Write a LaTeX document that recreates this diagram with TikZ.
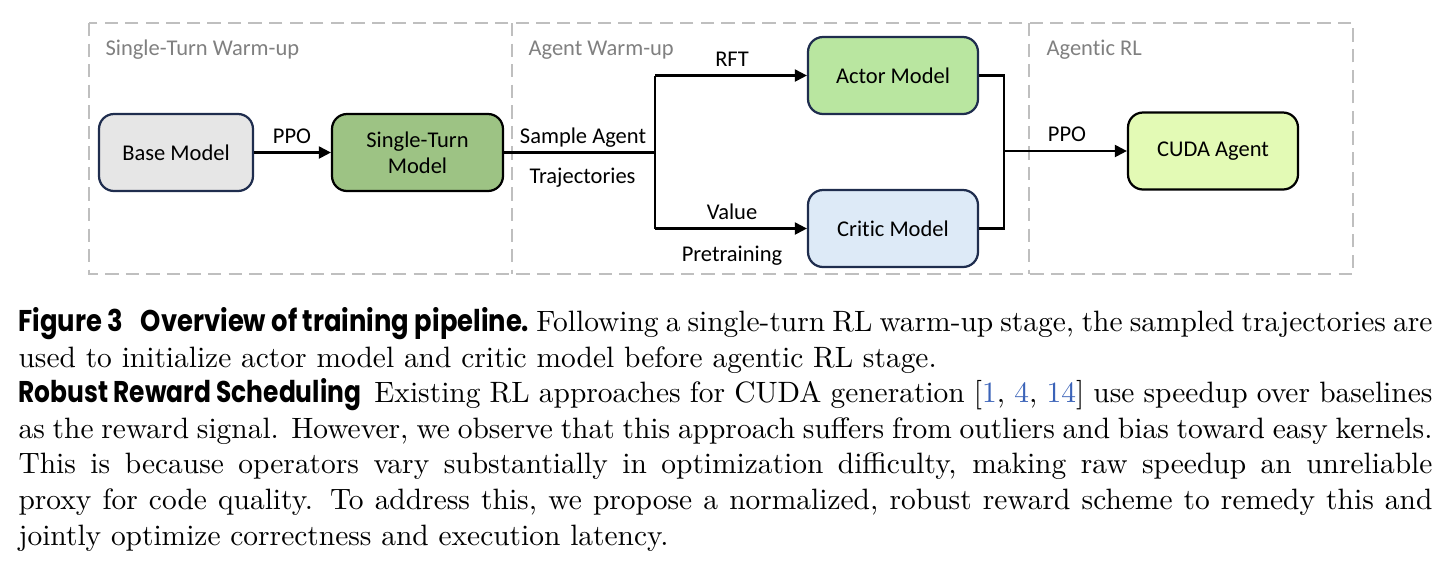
\documentclass[tikz,border=0pt]{standalone}
\usepackage{fontspec}
\usepackage{graphicx}
\usetikzlibrary{arrows.meta}
\newfontfamily\carl{Carlito}[Ligatures={NoCommon}]
\newfontfamily\pop{Poppins}
\definecolor{navy}{HTML}{1F2D4E}
\definecolor{basefill}{HTML}{E6E6E6}
\definecolor{stfill}{HTML}{9DC384}
\definecolor{actorfill}{HTML}{B9E6A0}
\definecolor{criticfill}{HTML}{DDEAF7}
\definecolor{cudafill}{HTML}{E3FAB5}
\definecolor{dashgray}{HTML}{BFBFBF}
\definecolor{grptext}{HTML}{808080}
\definecolor{citeblue}{HTML}{3B63B8}
\newcommand{\capfont}{\pop\bfseries\fontsize{10.8}{12}\selectfont}
\newcommand{\caphead}[2][0.83]{\scalebox{#1}[1]{\capfont #2}}
\begin{document}
\begin{tikzpicture}[x=0.36pt,y=-0.36pt,
  box/.style={draw, line width=0.8pt, rounded corners=5.4pt, font=\carl\fontsize{8.1}{9.4}\selectfont, align=center, inner sep=0, minimum height=27.72pt},
  lab/.style={font=\carl\fontsize{8.1}{9.4}\selectfont, inner sep=0, anchor=base},
  grp/.style={lab, text=grptext, anchor=base west},
  arr/.style={-{Triangle[length=4.3pt,width=4.3pt]}, line width=0.75pt},
  conn/.style={line width=0.75pt},
  grpline/.style={draw=dashgray, line width=1.05pt, dash pattern=on 4.8pt off 2.6pt},
  body/.style={font=\fontsize{10.6}{12.8}\selectfont, inner sep=0, anchor=base west}]
\useasboundingbox (0,0) rectangle (1449,568);

% stage frames
\draw[grpline] (89,23) rectangle (1353,274);
\draw[grpline] (512,23) -- (512,274);
\draw[grpline] (1029,23) -- (1029,274);
\node[grp] (g1) at (105,55) {Single-Turn Warm-up};
\node[grp] (g2) at (528,55) {Agent Warm-up};
\node[grp] (g3) at (1046,55) {Agentic RL};

% boxes
\node[box, draw=navy, fill=basefill, minimum width=55.44pt] (base) at (176,152.5) {Base Model};
\node[box, draw=black, fill=stfill, minimum width=61.56pt] (st) at (417.5,152.5) {Single-Turn\\Model};
\node[box, draw=navy, fill=actorfill, minimum width=61.2pt] (actor) at (893,75.5) {Actor Model};
\node[box, draw=navy, fill=criticfill, minimum width=61.2pt] (critic) at (893,228.5) {Critic Model};
\node[box, draw=black, fill=cudafill, minimum width=61.2pt] (cuda) at (1213,151) {CUDA Agent};

\coordinate (j1) at (655,152.5);
\coordinate (j2) at (1004,151);

% connectors
\draw[arr] (base) -- (st);
\draw[conn] (st.east) -- (j1);
\draw[conn] (j1 |- actor.west) -- (j1 |- critic.west);
\draw[arr] (j1 |- actor.west) -- (actor.west);
\draw[arr] (j1 |- critic.west) -- (critic.west);
\draw[conn] (actor.east) -- (actor.east -| j2) -- (critic.east -| j2) -- (critic.east);
\draw[arr] (j2) -- (cuda.west);

% labels
\node[lab] (ppo1) at (292,143) {PPO};
\node[lab] (sa) at (583,143) {Sample Agent};
\node[lab] (tr) at (582.5,183) {Trajectories};
\node[lab] (rft) at (732,66) {RFT};
\node[lab] (val) at (732,219) {Value};
\node[lab] (pre) at (732,261) {Pretraining};
\node[lab] (ppo2) at (1067,141) {PPO};

% caption and body text
\node[body] (l1) at (18,331.5) {\makebox[509pt][s]{\caphead[0.86]{Figure 3\hspace{7.4pt}Overview of training pipeline.} Following a single-turn RL warm-up stage, the sampled trajectories are}};
\node[body] (l2) at (18,367) {used to initialize actor model and critic model before agentic RL stage.};
\node[body] (l3) at (18,402.5) {\makebox[509pt][s]{\caphead{Robust Reward Scheduling}\hspace{4.8pt}Existing RL approaches for CUDA generation [\textcolor{citeblue}{1}, \textcolor{citeblue}{4}, \textcolor{citeblue}{14}] use speedup over baselines}};
\node[body] (l4) at (18,438) {\makebox[509pt][s]{as the reward signal. However, we observe that this approach suffers from outliers and bias toward easy kernels.}};
\node[body] (l5) at (18,473.5) {\makebox[509pt][s]{This is because operators vary substantially in optimization difficulty, making raw speedup an unreliable}};
\node[body] (l6) at (18,509.5) {\makebox[509pt][s]{proxy for code quality. To address this, we propose a normalized, robust reward scheme to remedy this and}};
\node[body] (l7) at (18,545) {jointly optimize correctness and execution latency.};
\end{tikzpicture}
\end{document}
